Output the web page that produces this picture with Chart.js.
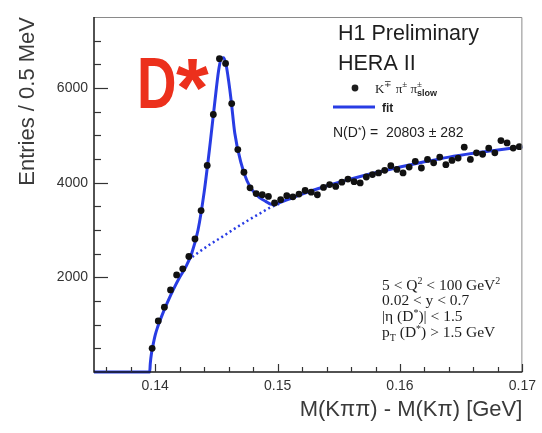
<!DOCTYPE html>
<html>
<head>
<meta charset="utf-8">
<script src="https://cdn.jsdelivr.net/npm/chart.js@4.4.1/dist/chart.umd.min.js"></script>
<style>
    body { margin: 0; background: #fff; }
    #graph { display: block; }
</style>
</head>
<body>
<canvas id="graph" width="542" height="433"></canvas>
<script>
// bin centres, 0.5 MeV bins (GeV)
var binCenters = [
    0.13975, 0.14025, 0.14075, 0.14125, 0.14175, 0.14225, 0.14275, 0.14325, 0.14375, 0.14425,
    0.14475, 0.14525, 0.14575, 0.14625, 0.14675, 0.14725, 0.14775, 0.14825, 0.14875, 0.14925,
    0.14975, 0.15025, 0.15075, 0.15125, 0.15175, 0.15225, 0.15275, 0.15325, 0.15375, 0.15425,
    0.15475, 0.15525, 0.15575, 0.15625, 0.15675, 0.15725, 0.15775, 0.15825, 0.15875, 0.15925,
    0.15975, 0.16025, 0.16075, 0.16125, 0.16175, 0.16225, 0.16275, 0.16325, 0.16375, 0.16425,
    0.16475, 0.16525, 0.16575, 0.16625, 0.16675, 0.16725, 0.16775, 0.16825, 0.16875, 0.16925,
    0.16975
];
var entries = [
    500, 1080, 1370, 1735, 2050, 2180, 2440, 2810, 3410, 4365,
    5440, 6620, 6520, 5670, 4700, 4220, 3890, 3770, 3745, 3710,
    3570, 3640, 3725, 3700, 3760, 3835, 3800, 3745, 3900, 3960,
    3920, 4010, 4075, 4020, 3995, 4120, 4170, 4205, 4260, 4360,
    4280, 4205, 4330, 4450, 4310, 4490, 4420, 4540, 4380, 4470,
    4520, 4750, 4490, 4630, 4600, 4730, 4630, 4890, 4840, 4730,
    4760
];

// fit curve
var fitX = [0.135, 0.13955, 0.1396, 0.1397, 0.1398, 0.1400, 0.1402, 0.1405, 0.1410, 0.1415,
            0.1420, 0.1425, 0.1430, 0.1435, 0.1440, 0.1445, 0.1450, 0.1452, 0.1454, 0.1456,
            0.1458, 0.1460, 0.1462, 0.1465, 0.1470, 0.1475, 0.1480, 0.1485, 0.1490, 0.1495,
            0.1500, 0.1510, 0.1520, 0.1540, 0.1560, 0.1580, 0.1600, 0.1620, 0.1640, 0.1660,
            0.1680, 0.1700];
var fitY = [0, 0, 180, 400, 540, 780, 950, 1160, 1470, 1750,
            2000, 2220, 2520, 3000, 3800, 4850, 6000, 6400, 6630, 6640,
            6480, 6150, 5750, 5050, 4430, 4040, 3820, 3690, 3610, 3545,
            3565, 3660, 3760, 3930, 4080, 4210, 4330, 4440, 4540, 4620,
            4690, 4760];

// background part of the fit (dotted)
var bgX = [0.1427, 0.1435, 0.1445, 0.1455, 0.1465, 0.1475, 0.1485, 0.1495, 0.1503];
var bgY = [2370, 2520, 2700, 2860, 3030, 3190, 3340, 3490, 3570];

var xTicks = [0.14, 0.15, 0.16, 0.17];
var yTicks = [2000, 4000, 6000];
var xMinorStep = 0.002, yMinorStep = 500;

var blue = 'rgb(40, 60, 228)';
var sans = '"Liberation Sans", Arial, sans-serif';
var serif = '"Liberation Serif", "Times New Roman", serif';

function pairs(xs, ys) {
    return xs.map(function (x, i) { return {x: x, y: ys[i]}; });
}

function richText(c, x, y, parts) {
    parts.forEach(function (p) {
        c.font = p.font;
        c.fillText(p.t, x, y + (p.dy || 0));
        if (!p.stay) x += c.measureText(p.t).width;
    });
}

var decorations = {
    id: 'decorations',
    afterDraw: function (chart) {
        var c = chart.ctx, a = chart.chartArea, xs = chart.scales.x, ys = chart.scales.y;
        c.save();

        // frame
        c.strokeStyle = '#8a8a8a';
        c.lineWidth = 1;
        c.beginPath();
        c.moveTo(a.left, a.top + 0.5);
        c.lineTo(a.right - 0.5, a.top + 0.5);
        c.lineTo(a.right - 0.5, a.bottom);
        c.stroke();
        c.strokeStyle = '#1a1a1a';
        c.lineWidth = 1.5;
        c.beginPath();
        c.moveTo(a.left, a.top);
        c.lineTo(a.left, a.bottom);
        c.lineTo(a.right, a.bottom);
        c.stroke();

        // inward ticks
        c.lineWidth = 1.2;
        c.strokeStyle = '#333';
        for (var v = yMinorStep; v < ys.max; v += yMinorStep) {
            var py = Math.round(ys.getPixelForValue(v)) + 0.5;
            var len = (v % 2000 === 0) ? 14 : 7;
            c.beginPath();
            c.moveTo(a.left, py);
            c.lineTo(a.left + len, py);
            c.stroke();
        }
        for (var k = 0; ; k++) {
            var xv = 0.136 + k * xMinorStep;
            if (xv > xs.max + 1e-9) break;
            var px = Math.round(xs.getPixelForValue(xv)) + 0.5;
            var major = Math.round(xv * 1000) % 10 === 0;
            c.beginPath();
            c.moveTo(px, a.bottom);
            c.lineTo(px, a.bottom - (major ? 8 : 5));
            c.stroke();
        }

        // D* label
        c.fillStyle = 'rgb(236, 48, 28)';
        c.save();
        c.translate(137, 108);
        c.scale(0.76, 1);
        c.font = 'bold 72px ' + sans;
        c.fillText('D', 0, 0);
        c.restore();
        c.font = 'bold 84px ' + sans;
        c.fillText('*', 176, 117);

        // experiment labels
        c.fillStyle = '#1e1e1e';
        c.font = '21.5px ' + sans;
        c.fillText('H1 Preliminary', 338, 40);
        c.fillText('HERA II', 338, 70);

        // legend
        c.beginPath();
        c.arc(355, 88, 3.4, 0, Math.PI * 2);
        c.fill();
        richText(c, 375, 93, [
            {t: 'K', font: '13px ' + serif},
            {t: '\u2213', font: '9px ' + serif, dy: -6},
            {t: ' \u03c0', font: '13px ' + serif},
            {t: '\u00b1', font: '9px ' + serif, dy: -6},
            {t: ' \u03c0', font: '13px ' + serif},
            {t: '\u00b1', font: '9px ' + serif, dy: -6, stay: true},
            {t: 'slow', font: 'bold 9px ' + sans, dy: 3}
        ]);
        c.strokeStyle = blue;
        c.lineWidth = 3;
        c.beginPath();
        c.moveTo(333, 107);
        c.lineTo(375, 107);
        c.stroke();
        c.font = 'bold 12px ' + sans;
        c.fillText('fit', 382, 112);
        richText(c, 333, 137, [
            {t: 'N(D', font: '14px ' + sans},
            {t: '*', font: '9px ' + sans, dy: -4},
            {t: ') =  20803 \u00b1 282', font: '14px ' + sans}
        ]);

        // cuts
        var f = '15.5px ' + serif, fs = '10px ' + serif;
        richText(c, 382, 290, [
            {t: '5 < Q', font: f}, {t: '2', font: fs, dy: -6},
            {t: ' < 100 GeV', font: f}, {t: '2', font: fs, dy: -6}
        ]);
        richText(c, 382, 305, [{t: '0.02 < y < 0.7', font: f}]);
        richText(c, 382, 321, [
            {t: '|\u03b7 (D', font: f}, {t: '*', font: fs, dy: -5},
            {t: ')| < 1.5', font: f}
        ]);
        richText(c, 382, 337, [
            {t: 'p', font: f}, {t: 'T', font: fs, dy: 4},
            {t: ' (D', font: f}, {t: '*', font: fs, dy: -5},
            {t: ') > 1.5 GeV', font: f}
        ]);
        c.restore();
    }
};

var ctx = document.getElementById('graph').getContext('2d');

var chart = new Chart(ctx, {
    type: 'scatter',
    data: {
        datasets: [{
            label: 'data',
            data: pairs(binCenters, entries),
            pointRadius: 3.4,
            pointBackgroundColor: '#111',
            pointBorderWidth: 0,
            showLine: false,
            order: 0
        }, {
            label: 'fit',
            data: pairs(fitX, fitY),
            showLine: true,
            pointRadius: 0,
            borderColor: blue,
            borderWidth: 3,
            cubicInterpolationMode: 'monotone',
            clip: false,
            order: 1
        }, {
            label: 'background',
            data: pairs(bgX, bgY),
            showLine: true,
            pointRadius: 0,
            borderColor: blue,
            borderWidth: 2.5,
            borderDash: [2, 3],
            cubicInterpolationMode: 'monotone',
            order: 2
        }]
    },
    options: {
        responsive: false,
        animation: false,
        devicePixelRatio: 1,
        layout: {padding: {left: 0, top: 17, right: 15, bottom: 0}},
        plugins: {legend: {display: false}, tooltip: {enabled: false}},
        scales: {
            x: {
                type: 'linear',
                min: 0.135,
                max: 0.17,
                afterFit: function (s) { s.height = 61; },
                afterBuildTicks: function (s) {
                    s.ticks = xTicks.map(function (v) { return {value: v}; });
                },
                grid: {display: false, drawTicks: false},
                border: {display: false},
                ticks: {
                    padding: 6, maxRotation: 0, autoSkip: false, color: '#333',
                    font: {family: sans, size: 14},
                    callback: function (v) { return v.toFixed(2); }
                },
                title: {
                    display: true, text: 'M(K\u03c0\u03c0) - M(K\u03c0) [GeV]', align: 'end',
                    color: '#3a3a3a', font: {family: sans, size: 22}, padding: {top: 0, bottom: 10}
                }
            },
            y: {
                min: 0,
                max: 7500,
                afterFit: function (s) { s.width = 94; },
                afterBuildTicks: function (s) {
                    s.ticks = yTicks.map(function (v) { return {value: v}; });
                },
                grid: {display: false, drawTicks: false},
                border: {display: false},
                ticks: {
                    padding: 6, color: '#333',
                    font: {family: sans, size: 14},
                    callback: function (v) { return String(v); }
                },
                title: {
                    display: true, text: 'Entries / 0.5 MeV', align: 'end',
                    color: '#3a3a3a', font: {family: sans, size: 22}, padding: {top: 15, bottom: 0}
                }
            }
        }
    },
    plugins: [decorations]
});
</script>
</body>
</html>
